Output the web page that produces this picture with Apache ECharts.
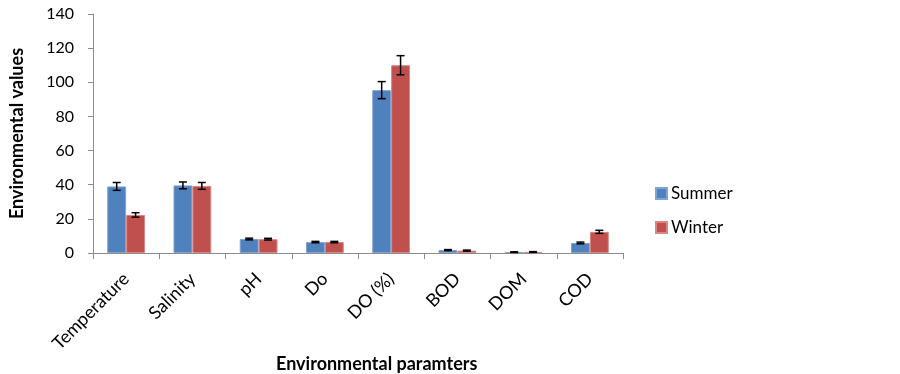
<!DOCTYPE html>
<html>
<head>
<meta charset="utf-8">
<script src="https://cdn.jsdelivr.net/npm/echarts@6/dist/echarts.min.js"></script>
<style>html,body{margin:0;padding:0;background:#fff}#c{width:900px;height:374px}</style>
</head>
<body>
<div id="c"></div>
<script>
var categories = ['Temperature','Salinity','pH','Do','DO (%)','BOD','DOM','COD'];
var summer = [39.0, 39.6, 8.2, 6.4, 95.4, 1.7, 0.5, 5.9];
var winter = [22.3, 39.3, 8.1, 6.4, 110.0, 1.4, 0.6, 12.4];
var summerErr = [2.3, 2.0, 0.5, 0.4, 5.0, 0.3, 0.2, 0.5];
var winterErr = [1.3, 2.0, 0.5, 0.4, 5.6, 0.3, 0.2, 0.9];
var yTicks = [0, 20, 40, 60, 80, 100, 120, 140];

var GAP = 0.43;
var font = 'Lato, "Open Sans", sans-serif';

function errSeries(vals, errs, side) {
  var data = vals.map(function (v, i) { return [i, v, errs[i]]; });
  return {
    type: 'custom',
    z: 10,
    silent: true,
    data: data,
    encode: { x: 0, y: 1 },
    renderItem: function (params, api) {
      var i = api.value(0), v = api.value(1), e = api.value(2);
      var band = api.size([1, 0])[0];
      var bw = band * (1 - GAP) / 2;
      var c = api.coord([i, v]);
      var x = c[0] + side * bw / 2;
      var top = api.coord([i, v + e])[1];
      var bot = api.coord([i, v - e])[1];
      var cap = 4;
      var st = { stroke: '#000', lineWidth: 1.5 };
      return {
        type: 'group',
        children: [
          { type: 'line', shape: { x1: x, y1: top, x2: x, y2: bot }, style: st },
          { type: 'line', shape: { x1: x - cap, y1: top, x2: x + cap, y2: top }, style: st },
          { type: 'line', shape: { x1: x - cap, y1: bot, x2: x + cap, y2: bot }, style: st }
        ]
      };
    }
  };
}

var chart = echarts.init(document.getElementById('c'));
chart.setOption({
  animation: false,
  textStyle: { fontFamily: font },
  grid: { left: 89, right: 277, top: 14, bottom: 121, containLabel: false },
  title: {
    text: 'Environmental paramters',
    left: 276, top: 355,
    padding: 0,
    textStyle: { fontFamily: font, fontSize: 18, fontWeight: 'bold', color: '#000' }
  },
  legend: {
    orient: 'vertical',
    left: 650, top: 180,
    itemWidth: 11, itemHeight: 11, itemGap: 17,
    icon: 'rect',
    data: ['Summer', 'Winter'],
    textStyle: { fontFamily: font, fontSize: 17, color: '#000', padding: [0, 0, 0, -1] }
  },
  xAxis: {
    type: 'category',
    data: categories,
    axisLine: { lineStyle: { color: '#8c8c8c', width: 1 } },
    axisTick: { show: true, length: 6, alignWithLabel: false, lineStyle: { color: '#8c8c8c' } },
    axisLabel: { rotate: 45, margin: 23, fontSize: 18, color: '#000', fontFamily: font, interval: 0 }
  },
  yAxis: {
    type: 'value',
    min: 0, max: 140, interval: 20,
    name: 'Environmental values',
    nameLocation: 'middle',
    nameGap: 67,
    nameTextStyle: { fontFamily: font, fontSize: 18, fontWeight: 'bold', color: '#000' },
    splitLine: { show: false },
    axisLine: { show: true, lineStyle: { color: '#8c8c8c', width: 1 } },
    axisTick: { show: true, length: 5, lineStyle: { color: '#8c8c8c' } },
    axisLabel: {
      margin: 19, fontSize: 16, color: '#000', fontFamily: font,
      formatter: function (v) { return yTicks.indexOf(v) >= 0 ? String(v) : ''; }
    }
  },
  series: [
    {
      name: 'Summer', type: 'bar', data: summer,
      barGap: '0%', barCategoryGap: (GAP * 100) + '%',
      itemStyle: { color: '#4F81BD', borderColor: '#7FA3D3', borderWidth: 1 }
    },
    {
      name: 'Winter', type: 'bar', data: winter,
      barGap: '0%', barCategoryGap: (GAP * 100) + '%',
      itemStyle: { color: '#C0504D', borderColor: '#D88583', borderWidth: 1 }
    },
    errSeries(summer, summerErr, -1),
    errSeries(winter, winterErr, 1)
  ]
});
</script>
</body>
</html>
